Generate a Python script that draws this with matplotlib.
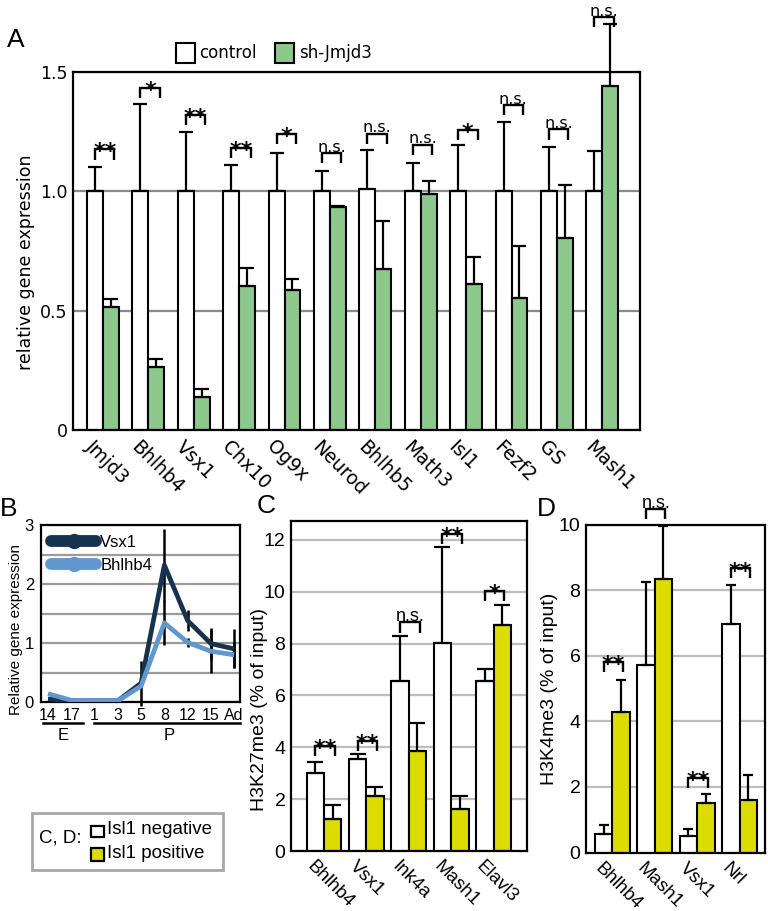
import matplotlib
matplotlib.use("Agg")
import matplotlib.pyplot as plt
from matplotlib.patches import Rectangle
from matplotlib.lines import Line2D
import numpy as np

# ---------------- data ----------------
genes_A = ["Jmjd3", "Bhlhb4", "Vsx1", "Chx10", "Og9x", "Neurod", "Bhlhb5",
           "Math3", "Isl1", "Fezf2", "GS", "Mash1"]
control_A = [1.0, 1.0, 1.0, 1.0, 1.0, 1.0, 1.01, 1.0, 1.0, 1.0, 1.0, 1.0]
control_err_A = [0.10, 0.365, 0.25, 0.11, 0.16, 0.084, 0.165, 0.12, 0.195, 0.29, 0.186, 0.167]
sh_A = [0.514, 0.266, 0.139, 0.602, 0.588, 0.936, 0.675, 0.987, 0.613, 0.553, 0.805, 1.44]
sh_err_A = [0.036, 0.032, 0.032, 0.076, 0.045, 0.004, 0.20, 0.056, 0.11, 0.216, 0.221, 0.26]
sig_A = ["**", "*", "**", "**", "*", "n.s.", "n.s.", "n.s.", "*", "n.s.", "n.s.", "n.s."]
bracket_A = [1.176, 1.435, 1.32, 1.183, 1.242, 1.16, 1.242, 1.196, 1.256, 1.361, 1.26, 1.73]

stages_B = ["14", "17", "1", "3", "5", "8", "12", "15", "Ad"]
vsx1_B = [0.05, 0.02, 0.02, 0.02, 0.32, 2.32, 1.38, 0.99, 0.90]
vsx1_err_B = [0, 0, 0, 0, 0.38, 0.62, 0.18, 0.27, 0.33]
bhlhb4_B = [0.14, 0.03, 0.02, 0.02, 0.27, 1.34, 1.01, 0.86, 0.80]
bhlhb4_err_B = [0, 0, 0, 0, 0, 0.38, 0.07, 0.36, 0.22]

genes_C = ["Bhlhb4", "Vsx1", "Ink4a", "Mash1", "Elavl3"]
neg_C = [3.02, 3.55, 6.57, 8.01, 6.57]
neg_err_C = [0.42, 0.19, 1.72, 3.73, 0.45]
pos_C = [1.23, 2.12, 3.87, 1.62, 8.72]
pos_err_C = [0.54, 0.34, 1.08, 0.51, 0.77]
sig_C = ["**", "**", "n.s.", "**", "*"]
bracket_C = [4.05, 4.26, 8.82, 12.23, 10.03]

genes_D = ["Bhlhb4", "Mash1", "Vsx1", "Nrl"]
neg_D = [0.56, 5.73, 0.49, 6.97]
neg_err_D = [0.29, 2.53, 0.23, 1.18]
pos_D = [4.27, 8.33, 1.51, 1.61]
pos_err_D = [1.0, 1.62, 0.28, 0.76]
sig_D = ["**", "n.s.", "**", "**"]
bracket_D = [5.81, 10.47, 2.27, 8.66]

# ---------------- style ----------------
plt.rcParams['font.family'] = ['DejaVu Sans']
GREEN = '#8cc88b'
YELLOW = '#dcdc00'
W, H = 768, 911
HELV = 'Liberation Sans'

fig = plt.figure(figsize=(W / 100, H / 100), dpi=100)


def ax_px(x0, y0, x1, y1):
    return fig.add_axes([x0 / W, 1 - y1 / H, (x1 - x0) / W, (y1 - y0) / H])


def fx(px):
    return px / W


def fy(py):
    return 1 - py / H


def noclip(cont):
    for part in cont.lines:
        if part is None:
            continue
        if isinstance(part, tuple):
            for p in part:
                p.set_clip_on(False)
        else:
            part.set_clip_on(False)


def bracket(ax, x0, x1, y, drop, text, fs_ns, fam_ns):
    ax.plot([x0, x0, x1, x1], [y - drop, y, y, y - drop], color='k', lw=1.7,
            clip_on=False, solid_joinstyle='miter', solid_capstyle='butt', zorder=5)
    if text == 'n.s.':
        ax.annotate(text, ((x0 + x1) / 2, y), xytext=(0, 1.0), textcoords='offset points',
                    ha='center', va='baseline', fontsize=fs_ns, family=fam_ns,
                    annotation_clip=False)
    else:
        ax.annotate(text, ((x0 + x1) / 2, y), xytext=(0, -6.6), textcoords='offset points',
                    ha='center', va='baseline', fontsize=16, fontweight='bold',
                    family='DejaVu Sans', annotation_clip=False)


def style_box(ax, lw=1.6):
    for s in ax.spines.values():
        s.set_linewidth(lw)
        s.set_color('k')
    ax.tick_params(length=0)


# ---------------- panel A ----------------
axA = ax_px(73, 72, 640, 430)
wA = 0.35
xA = np.arange(len(genes_A))
axA.bar(xA - wA / 2, control_A, wA, color='white', edgecolor='k', lw=1.5, zorder=2)
axA.bar(xA + wA / 2, sh_A, wA, color=GREEN, edgecolor='k', lw=1.5, zorder=2)
c = axA.errorbar(xA - wA / 2, control_A, yerr=[np.zeros(len(xA)), control_err_A], fmt='none',
                 ecolor='k', elinewidth=1.6, capsize=5, capthick=1.6, zorder=3)
noclip(c)
c = axA.errorbar(xA + wA / 2, sh_A, yerr=[np.zeros(len(xA)), sh_err_A], fmt='none',
                 ecolor='k', elinewidth=1.6, capsize=5, capthick=1.6, zorder=3)
noclip(c)
for i in range(len(genes_A)):
    bracket(axA, i - wA / 2, i + wA * 0.72, bracket_A[i], 0.043, sig_A[i], 11.5, 'DejaVu Sans')
axA.set_xlim(-0.66, 11.83)
axA.set_ylim(0, 1.5)
axA.set_yticks([0, 0.5, 1.0, 1.5])
axA.set_yticklabels(['0', '0.5', '1.0', '1.5'], fontsize=12.5)
axA.grid(axis='y', color='#8a8a8a', lw=1.6)
axA.set_axisbelow(True)
axA.set_xticks(xA - wA / 2)
axA.set_xticklabels(genes_A, rotation=-45, ha='left', va='top', rotation_mode='anchor',
                    fontsize=13.5)
axA.tick_params(axis='x', pad=5)
axA.tick_params(axis='y', pad=4)
axA.set_ylabel('relative gene expression', fontsize=12.5, va='center')
axA.yaxis.set_label_coords((26 - 73) / 567, 0.469)
style_box(axA)

fig.text(fx(7), fy(40), 'A', fontsize=19, family=HELV, va='center', ha='left')
# legend A
fig.add_artist(Rectangle((fx(176), fy(63)), 19 / W, 20 / H, transform=fig.transFigure,
                         facecolor='white', edgecolor='k', lw=1.5))
fig.text(fx(199), fy(53), 'control', fontsize=12, va='center', ha='left')
fig.add_artist(Rectangle((fx(275), fy(63)), 19 / W, 20 / H, transform=fig.transFigure,
                         facecolor=GREEN, edgecolor='k', lw=1.5))
fig.text(fx(299), fy(53), 'sh-Jmjd3', fontsize=12, va='center', ha='left')

# ---------------- panel B ----------------
axB = ax_px(41, 525, 240, 702)
xB = np.arange(len(stages_B))
c = axB.errorbar(xB, vsx1_B, yerr=vsx1_err_B, fmt='none', ecolor='k', elinewidth=1.8,
                 capsize=0, zorder=2)
noclip(c)
c = axB.errorbar(xB, bhlhb4_B, yerr=bhlhb4_err_B, fmt='none', ecolor='k', elinewidth=1.8,
                 capsize=0, zorder=2)
noclip(c)
axB.plot(xB, vsx1_B, color='#16324f', lw=3.4, zorder=3, solid_capstyle='butt')
axB.plot(xB, bhlhb4_B, color='#6196cf', lw=3.4, zorder=4, solid_capstyle='butt')
axB.set_xlim(-0.3, 8.25)
axB.set_ylim(0, 3)
axB.set_yticks([0, 0.5, 1, 1.5, 2, 2.5, 3])
axB.set_yticklabels(['0', '', '1', '', '2', '', '3'], family=HELV, fontsize=12)
axB.grid(axis='y', color='#9a9a9a', lw=1.6)
axB.set_axisbelow(True)
axB.set_xticks(xB)
axB.set_xticklabels(stages_B, family=HELV, fontsize=11.5)
axB.tick_params(axis='x', pad=4)
axB.tick_params(axis='y', pad=5)
axB.set_ylabel('Relative gene expression', family=HELV, fontsize=11, va='center')
axB.yaxis.set_label_coords((16 - 41) / 199, 0.41)
style_box(axB)
tr = axB.get_xaxis_transform()
axB.plot([-0.22, 1.52], [-0.117, -0.117], color='k', lw=1.8, transform=tr, clip_on=False)
axB.plot([1.96, 8.26], [-0.117, -0.117], color='k', lw=1.8, transform=tr, clip_on=False)
axB.text(0.65, -0.19, 'E', transform=tr, ha='center', va='center', family=HELV, fontsize=12)
axB.text(5.2, -0.19, 'P', transform=tr, ha='center', va='center', family=HELV, fontsize=12)
hB = [Line2D([], [], color='#16324f', lw=8.5, marker='o', ms=10, solid_capstyle='round'),
      Line2D([], [], color='#6196cf', lw=8.5, marker='o', ms=10, solid_capstyle='round')]
legB = axB.legend(hB, ['Vsx1', 'Bhlhb4'], loc='upper left', frameon=False,
                  prop={'family': HELV, 'size': 12}, handlelength=2.7, handletextpad=0.25,
                  labelspacing=0.5, borderaxespad=0.35, borderpad=0.25)
fig.text(fx(0), fy(509), 'B', fontsize=19, family=HELV, va='center', ha='left')

# ---------------- panel C ----------------
axC = ax_px(291, 521, 527, 851)
wC = 0.41
xC = np.arange(len(genes_C))
axC.bar(xC - wC / 2, neg_C, wC, color='white', edgecolor='k', lw=1.5, zorder=2)
axC.bar(xC + wC / 2, pos_C, wC, color=YELLOW, edgecolor='k', lw=1.5, zorder=2)
c = axC.errorbar(xC - wC / 2, neg_C, yerr=[np.zeros(len(xC)), neg_err_C], fmt='none',
                 ecolor='k', elinewidth=1.6, capsize=5.5, capthick=1.6, zorder=3)
noclip(c)
c = axC.errorbar(xC + wC / 2, pos_C, yerr=[np.zeros(len(xC)), pos_err_C], fmt='none',
                 ecolor='k', elinewidth=1.6, capsize=5.5, capthick=1.6, zorder=3)
noclip(c)
for i in range(len(genes_C)):
    bracket(axC, i - wC / 2, i + wC * 0.62, bracket_C[i], 0.4, sig_C[i], 13, HELV)
axC.set_xlim(-0.78, 4.79)
axC.set_ylim(0, 12.73)
axC.set_yticks([0, 2, 4, 6, 8, 10, 12])
axC.set_yticklabels(['0', '2', '4', '6', '8', '10', '12'], family=HELV, fontsize=14)
axC.grid(axis='y', color='#bdbdbd', lw=1.6)
axC.set_axisbelow(True)
axC.set_xticks(xC - wC / 2)
axC.set_xticklabels(genes_C, rotation=-45, ha='left', va='top', rotation_mode='anchor',
                    family=HELV, fontsize=13.5)
axC.tick_params(axis='x', pad=5)
axC.tick_params(axis='y', pad=4)
axC.set_ylabel('H3K27me3 (% of input)', family=HELV, fontsize=14, va='center')
axC.yaxis.set_label_coords((259 - 291) / 236, 0.43)
style_box(axC)
fig.text(fx(257), fy(506), 'C', fontsize=19, family=HELV, va='center', ha='left')

# ---------------- panel D ----------------
axD = ax_px(586, 524.5, 765, 852.5)
wD = 0.41
xD = np.arange(len(genes_D))
axD.bar(xD - wD / 2, neg_D, wD, color='white', edgecolor='k', lw=1.5, zorder=2)
axD.bar(xD + wD / 2, pos_D, wD, color=YELLOW, edgecolor='k', lw=1.5, zorder=2)
c = axD.errorbar(xD - wD / 2, neg_D, yerr=[np.zeros(len(xD)), neg_err_D], fmt='none',
                 ecolor='k', elinewidth=1.6, capsize=3.5, capthick=1.6, zorder=3)
noclip(c)
c = axD.errorbar(xD + wD / 2, pos_D, yerr=[np.zeros(len(xD)), pos_err_D], fmt='none',
                 ecolor='k', elinewidth=1.6, capsize=3.5, capthick=1.6, zorder=3)
noclip(c)
for i in range(len(genes_D)):
    bracket(axD, i - wD / 2, i + wD * 0.62, bracket_D[i], 0.3, sig_D[i], 13, HELV)
axD.set_xlim(-0.62, 3.6)
axD.set_ylim(0, 10)
axD.set_yticks([0, 2, 4, 6, 8, 10])
axD.set_yticklabels(['0', '2', '4', '6', '8', '10'], family=HELV, fontsize=14)
axD.grid(axis='y', color='#bdbdbd', lw=1.6)
axD.set_axisbelow(True)
axD.set_xticks(xD - wD / 2)
axD.set_xticklabels(genes_D, rotation=-45, ha='left', va='top', rotation_mode='anchor',
                    family=HELV, fontsize=13.5)
axD.tick_params(axis='x', pad=5)
axD.tick_params(axis='y', pad=4)
axD.set_ylabel('H3K4me3 (% of input)', family=HELV, fontsize=14, va='center')
axD.yaxis.set_label_coords((550 - 586) / 179, 0.5)
style_box(axD)
fig.text(fx(537), fy(509), 'D', fontsize=19, family=HELV, va='center', ha='left')

# ---------------- legend C, D ----------------
fig.add_artist(Rectangle((fx(32), fy(870)), (223 - 32) / W, (870 - 813) / H,
                         transform=fig.transFigure, facecolor='white', edgecolor='#a8a8a8', lw=2))
fig.text(fx(39), fy(838), 'C, D:', fontsize=13.5, family=HELV, va='center', ha='left')
fig.add_artist(Rectangle((fx(91), fy(836.5)), 12.5 / W, 11 / H, transform=fig.transFigure,
                         facecolor='white', edgecolor='k', lw=1.6))
fig.text(fx(107), fy(830), 'Isl1 negative', fontsize=13.5, family=HELV, va='center', ha='left')
fig.add_artist(Rectangle((fx(91), fy(860.5)), 12.5 / W, 13 / H, transform=fig.transFigure,
                         facecolor=YELLOW, edgecolor='k', lw=1.6))
fig.text(fx(107), fy(854), 'Isl1 positive', fontsize=13.5, family=HELV, va='center', ha='left')

fig.savefig('out.png', dpi=100)
